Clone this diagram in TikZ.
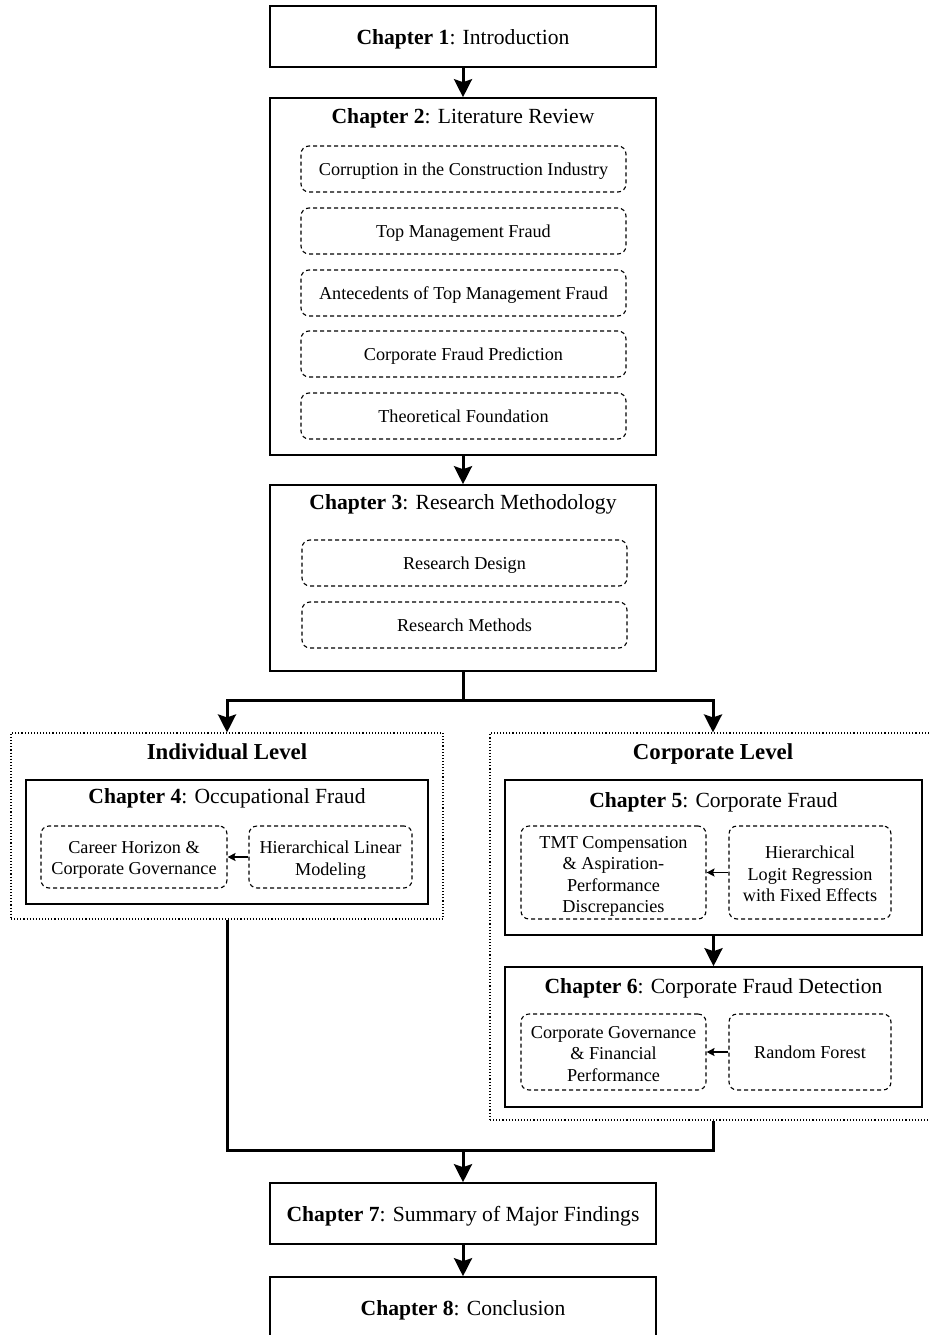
\documentclass[tikz,border=0pt]{standalone}
\usepackage{fontspec}
\setmainfont{Liberation Serif}
\usetikzlibrary{arrows.meta}
\newcommand{\chf}{\fontsize{21.6}{26}\selectfont}
\newcommand{\sbf}{\fontsize{18.2}{21.5}\selectfont}
\newcommand{\lvf}{\fontsize{22.8}{27}\selectfont\bfseries}
\begin{document}
\begin{tikzpicture}[x=1pt,y=-1pt,
  chapbox/.style={draw, line width=1.6pt, inner sep=0pt},
  subbox/.style={draw, line width=1.1pt, dash pattern=on 4pt off 3pt, rounded corners=8pt, inner sep=0pt},
  levelbox/.style={draw, line width=1.1pt, dotted, inner sep=0pt},
  ttl/.style={inner sep=0pt, text height=15.6pt, text depth=0pt, font=\chf},
  sub/.style={inner sep=0pt, text height=12.6pt, text depth=0pt, font=\sbf},
  multi/.style={inner sep=0pt, align=center, font=\sbf},
  lvl/.style={inner sep=0pt, text height=16pt, text depth=0pt, font=\lvf},
  conn/.style={line width=3pt, -{Stealth[length=18pt,width=18pt,inset=3pt]}},
  plain/.style={line width=3pt},
  small/.style={line width=1.4pt, -{Stealth[length=8pt,width=8pt,inset=1.5pt]}}
]
\useasboundingbox (0,0) rectangle (929,1335);
\clip (0,0) rectangle (929,1335);

% Chapter 1
\node[chapbox, minimum width=386pt, minimum height=61pt] (ch1) at (463,36.5) {};
\node[ttl] (t1) at (463,37) {\textbf{Chapter 1}: Introduction};

% Chapter 2
\node[chapbox, minimum width=386pt, minimum height=357pt] (ch2) at (463,276.5) {};
\node[ttl] (t2) at (463,116) {\textbf{Chapter 2}: Literature Review};
\node[subbox, sub, minimum width=325pt, minimum height=46pt] (s21) at (463.5,169) {Corruption in the Construction Industry};
\node[subbox, sub, minimum width=325pt, minimum height=46pt] (s22) at (463.5,231) {Top Management Fraud};
\node[subbox, sub, minimum width=325pt, minimum height=46pt] (s23) at (463.5,293) {Antecedents of Top Management Fraud};
\node[subbox, sub, minimum width=325pt, minimum height=46pt] (s24) at (463.5,354) {Corporate Fraud Prediction};
\node[subbox, sub, minimum width=325pt, minimum height=46pt] (s25) at (463.5,416) {Theoretical Foundation};

% Chapter 3
\node[chapbox, minimum width=386pt, minimum height=186pt] (ch3) at (463,578) {};
\node[ttl] (t3) at (463,502) {\textbf{Chapter 3}: Research Methodology};
\node[subbox, sub, minimum width=325pt, minimum height=46pt] (s31) at (464.5,563) {Research Design};
\node[subbox, sub, minimum width=325pt, minimum height=46pt] (s32) at (464.5,625) {Research Methods};

% Individual level
\node[levelbox, minimum width=432pt, minimum height=186pt] (ind) at (227,826) {};
\node[lvl] (lind) at (227,751) {Individual Level};
\node[chapbox, minimum width=402pt, minimum height=124pt] (ch4) at (227,842) {};
\node[ttl] (t4) at (227,796) {\textbf{Chapter 4}: Occupational Fraud};
\node[subbox, minimum width=186pt, minimum height=62pt] (s41) at (134,857) {};
\node[multi] (x41) at (134,860) {Career Horizon \&\\Corporate Governance};
\node[subbox, minimum width=163pt, minimum height=62pt] (s42) at (330.5,857) {};
\node[multi] (x42) at (330.5,860) {Hierarchical Linear\\Modeling};

% Corporate level
\node[levelbox, minimum width=446pt, minimum height=387pt] (corp) at (713,926.5) {};
\node[lvl] (lcorp) at (713,751) {Corporate Level};
\node[chapbox, minimum width=417pt, minimum height=155pt] (ch5) at (713.5,857.5) {};
\node[ttl] (t5) at (713.5,800) {\textbf{Chapter 5}: Corporate Fraud};
\node[subbox, minimum width=185pt, minimum height=93pt] (s51) at (613.5,872.5) {};
\node[multi] (x51) at (613.5,876.5) {TMT Compensation\\\& Aspiration-\\Performance\\Discrepancies};
\node[subbox, minimum width=162pt, minimum height=93pt] (s52) at (810,872.5) {};
\node[multi] (x52) at (810,874) {Hierarchical\\Logit Regression\\with Fixed Effects};
\node[chapbox, minimum width=417pt, minimum height=140pt] (ch6) at (713.5,1037) {};
\node[ttl] (t6) at (713.5,986) {\textbf{Chapter 6}: Corporate Fraud Detection};
\node[subbox, minimum width=185pt, minimum height=76pt] (s61) at (613.5,1052) {};
\node[multi] (x61) at (613.5,1054) {Corporate Governance\\\& Financial\\Performance};
\node[subbox, sub, minimum width=162pt, minimum height=76pt] (s62) at (810,1052) {Random Forest};

% Chapter 7, 8
\node[chapbox, minimum width=386pt, minimum height=61pt] (ch7) at (463,1213.5) {};
\node[ttl] (t7) at (463,1214) {\textbf{Chapter 7}: Summary of Major Findings};
\node[chapbox, minimum width=386pt, minimum height=68pt] (ch8) at (463,1311) {};
\node[ttl] (t8) at (463,1308) {\textbf{Chapter 8}: Conclusion};

% connectors
\coordinate (split) at (463,700);
\coordinate (join) at (463,1150);
\draw[conn] (ch1.south) -- (ch2.north);
\draw[conn] (ch2.south) -- (ch3.north);
\draw[plain] (ch3.south) -- (split);
\draw[conn] (split) -| (ind.north);
\draw[conn] (split) -| (corp.north);
\draw[conn] (ch5.south) -- (ch6.north);
\draw[plain] (ind.south) |- (join) -| (corp.south);
\draw[conn] (join) -- (ch7.north);
\draw[conn] (ch7.south) -- (ch8.north);
\draw[small] (s42.west) -- (s41.east);
\draw[small] (s52.west) -- (s51.east);
\draw[small] (s62.west) -- (s61.east);
\end{tikzpicture}
\end{document}
